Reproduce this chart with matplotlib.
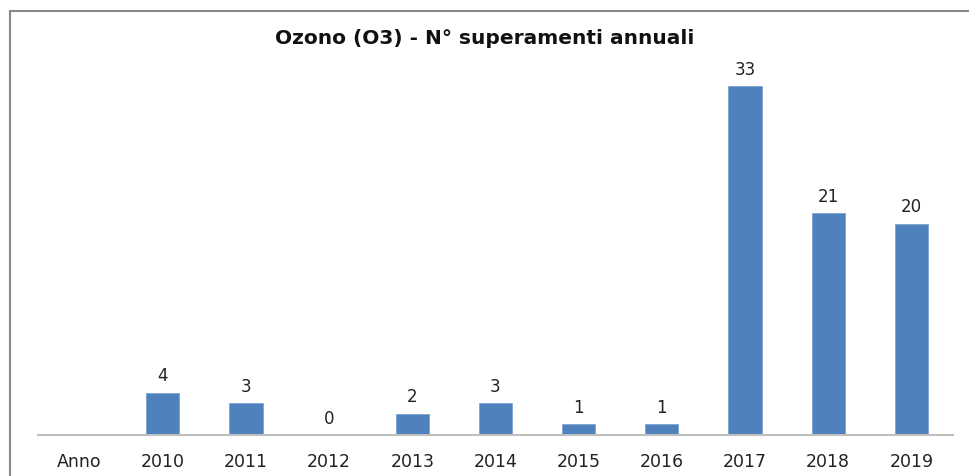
import numpy as np
import matplotlib.pyplot as plt
from matplotlib.lines import Line2D

# Dati: superamenti annuali ozono
anni = ['Anno', '2010', '2011', '2012', '2013', '2014', '2015', '2016', '2017', '2018', '2019']
superamenti = [np.nan, 4, 3, 0, 2, 3, 1, 1, 33, 21, 20]

plt.rcParams['font.family'] = ['DejaVu Sans']

fig = plt.figure(figsize=(9.7, 4.77), dpi=100)
ax = fig.add_axes([38 / 970, 41 / 477, 915 / 970, 370 / 477])

x = np.arange(len(anni))
ax.bar(x, superamenti, width=0.4, color='#4F81BD', edgecolor='#7FA3D3', linewidth=0.6)

# Etichette con i valori sopra le barre
for xi, v in zip(x, superamenti):
    if np.isnan(v):
        continue
    ax.text(xi, v + 0.8, f'{int(v)}', ha='center', va='bottom', fontsize=12, color='#222222')

ax.set_xlim(-0.5, len(anni) - 0.5)
ax.set_ylim(0, 35)
ax.set_xticks(x)
ax.set_xticklabels(anni, fontsize=12.5, color='#222222')
ax.tick_params(axis='x', length=0, pad=12)
ax.set_yticks([])
for s in ['top', 'right', 'left']:
    ax.spines[s].set_visible(False)
ax.spines['bottom'].set_color('#BFBFBF')
ax.spines['bottom'].set_linewidth(1.5)

fig.text(0.5, 1 - 38 / 477, 'Ozono (O3) - N° superamenti annuali', ha='center', va='center',
         fontsize=14.5, fontweight='bold', color='#111111')

# Cornice del grafico
fig.add_artist(Line2D([10 / 970, 1], [1 - 12 / 477, 1 - 12 / 477], color='#888888', lw=1.5))
fig.add_artist(Line2D([10 / 970, 10 / 970], [0, 1 - 12 / 477], color='#888888', lw=1.5))

fig.savefig('out.png', dpi=100)
